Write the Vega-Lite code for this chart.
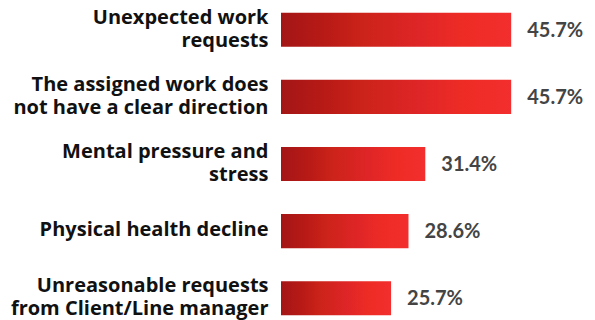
{
  "$schema": "https://vega.github.io/schema/vega-lite/v6.json",
  "width": 256,
  "height": 316,
  "padding": {"left": 281, "top": 6, "right": 58, "bottom": 0},
  "autosize": {"type": "none"},
  "background": "white",
  "config": {"view": {"stroke": null}},
  "data": {"values": [
    {"label": "Unexpected work\nrequests", "value": 0.457},
    {"label": "The assigned work does\nnot have a clear direction", "value": 0.457},
    {"label": "Mental pressure and\nstress", "value": 0.314},
    {"label": "Physical health decline", "value": 0.286},
    {"label": "Unreasonable requests\nfrom Client/Line manager", "value": 0.257}
  ]},
  "encoding": {
    "y": {
      "field": "label", "type": "nominal", "sort": null,
      "scale": {"paddingInner": 0.4925, "paddingOuter": 0.1},
      "axis": {
        "title": null, "domain": false, "ticks": false, "tickSize": 0,
        "labelPadding": 13, "labelFont": "Open Sans", "labelFontWeight": "bold",
        "labelFontSize": 20, "labelColor": "#111111", "labelLimit": 300,
        "labelLineHeight": 23,
        "labelOffset": {"condition": {"test": "indexof(datum.value, '\\n') >= 0", "value": -12}, "value": -1},
        "labelExpr": "split(datum.label, '\\n')"
      }
    },
    "x": {
      "field": "value", "type": "quantitative",
      "scale": {"domain": [0.0737, 0.5], "zero": false, "nice": false},
      "axis": null
    }
  },
  "layer": [
    {
      "mark": {
        "type": "bar",
        "color": {
          "gradient": "linear", "x1": 0, "y1": 0, "x2": 1, "y2": 0,
          "stops": [
            {"offset": 0, "color": "#a31616"},
            {"offset": 0.2, "color": "#b91a16"},
            {"offset": 0.35, "color": "#cb2319"},
            {"offset": 0.6, "color": "#df2527"},
            {"offset": 0.8, "color": "#ee2c25"},
            {"offset": 1, "color": "#f32e2e"}
          ]
        }
      },
      "encoding": {"x2": {"datum": 0.0737}}
    },
    {
      "mark": {"type": "text", "align": "left", "baseline": "middle", "dx": 16, "dy": 1,
        "font": "Lato", "fontWeight": "bold", "fontSize": 20, "color": "#444444"},
      "encoding": {"text": {"field": "value", "type": "quantitative", "format": ".1%"}}
    }
  ]
}
